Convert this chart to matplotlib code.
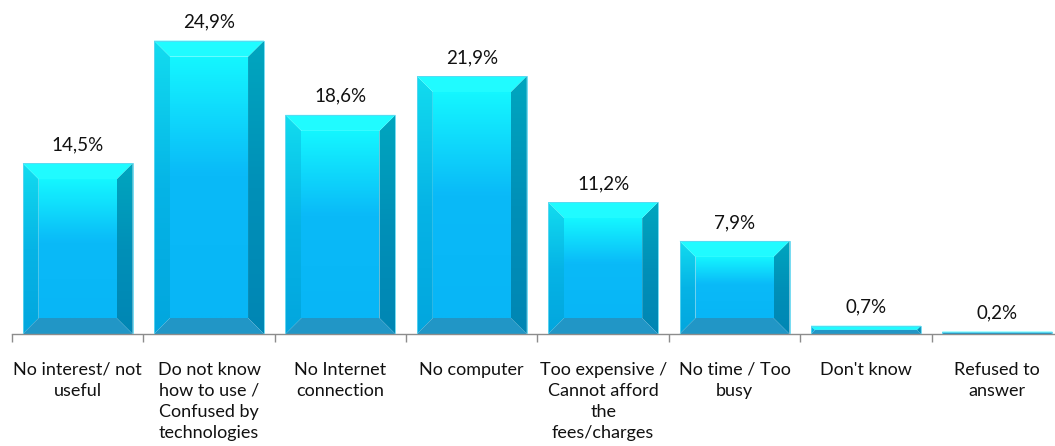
import matplotlib
matplotlib.use("Agg")
import matplotlib.pyplot as plt
from matplotlib.patches import Polygon
from matplotlib.colors import to_rgb
import numpy as np

plt.rcParams['font.family'] = ['Lato', 'DejaVu Sans']

categories = [
    "No interest/ not\nuseful",
    "Do not know\nhow to use /\nConfused by\ntechnologies",
    "No Internet\nconnection",
    "No computer",
    "Too expensive /\nCannot afford\nthe\nfees/charges",
    "No time / Too\nbusy",
    "Don't know",
    "Refused to\nanswer",
]
values = [14.5, 24.9, 18.6, 21.9, 11.2, 7.9, 0.7, 0.2]
value_labels = ["14,5%", "24,9%", "18,6%", "21,9%", "11,2%", "7,9%", "0,7%", "0,2%"]

W, H = 1055, 446
fig = plt.figure(figsize=(W / 100, H / 100), dpi=100)
ax = fig.add_axes([12 / W, 112 / H, 1051 / W, 330 / H])
YMAX = 330 / 11.78
ax.set_xlim(-0.5, len(values) - 0.5)
ax.set_ylim(0, YMAX)

px_x = 1051 / len(values)   # pixels per category
px_y = 330 / YMAX           # pixels per percent

bars = ax.bar(range(len(values)), values, width=0.837, color='none', edgecolor='none')


def shade(poly_pts, stops, x0, x1, y0, y1):
    # vertical gradient image clipped to a polygon face
    t = np.linspace(0, 1, 64)
    pos = [s[0] for s in stops]
    cols = np.array([to_rgb(s[1]) for s in stops])
    rgb = np.stack([np.interp(t, pos, cols[:, k]) for k in range(3)], axis=-1)
    im = ax.imshow(rgb[:, np.newaxis, :], extent=(x0, x1, y0, y1), origin='upper',
                   aspect='auto', interpolation='bilinear', zorder=2)
    im.set_clip_path(Polygon(poly_pts, closed=True, transform=ax.transData))


for bar in bars:
    x0 = bar.get_x()
    x1 = x0 + bar.get_width()
    top = bar.get_height()
    h_px = top * px_y
    b_px = min(16.0, h_px / 2)
    bx = b_px / px_x
    by = b_px / px_y
    ix0, ix1 = x0 + bx, x1 - bx
    iy0, iy1 = by, top - by

    # front face
    shade([(ix0, iy0), (ix1, iy0), (ix1, iy1), (ix0, iy1)],
          [(0, '#14f6ff'), (0.45, '#0abaf8'), (1, '#08b6f6')], ix0, ix1, iy0, iy1)
    # left bevel
    shade([(x0, 0), (ix0, iy0), (ix0, iy1), (x0, top)],
          [(0, '#12dcef'), (0.5, '#06b4e6'), (1, '#02a6de')], x0, ix0, 0, top)
    # right bevel
    shade([(x1, 0), (x1, top), (ix1, iy1), (ix1, iy0)],
          [(0, '#00a6bf'), (0.5, '#0090b8'), (1, '#0086b4')], ix1, x1, 0, top)
    # top bevel
    ax.add_patch(Polygon([(x0, top), (x1, top), (ix1, iy1), (ix0, iy1)],
                         closed=True, facecolor='#20fbff', edgecolor='none', zorder=2))
    # bottom bevel
    ax.add_patch(Polygon([(x0, 0), (x1, 0), (ix1, iy0), (ix0, iy0)],
                         closed=True, facecolor='#2196c6', edgecolor='none', zorder=2))
    # thin outline
    ax.add_patch(Polygon([(x0, 0), (x1, 0), (x1, top), (x0, top)], closed=True,
                         facecolor='none', edgecolor='#5fd6f0', lw=0.6, zorder=3))

for bar, lab in zip(bars, value_labels):
    ax.annotate(lab, (bar.get_x() + bar.get_width() / 2, bar.get_height()),
                xytext=(0, 9.4), textcoords='offset points', ha='center', va='baseline',
                fontsize=13.5, color='#111111')

ax.set_xlim(-0.5, len(values) - 0.5)
ax.set_ylim(0, YMAX)

for side in ['top', 'right', 'left']:
    ax.spines[side].set_visible(False)
ax.spines['bottom'].set_color('#8c8c8c')
ax.spines['bottom'].set_linewidth(1.0)
ax.set_yticks([])

ax.set_xticks(np.arange(len(values) + 1) - 0.5, minor=True)
ax.set_xticks(range(len(values)))
ax.set_xticklabels(categories, fontsize=13, color='#111111', linespacing=1.4)
ax.tick_params(axis='x', which='major', length=0, pad=20)
ax.tick_params(axis='x', which='minor', length=6, color='#8c8c8c', width=1.0)

fig.savefig("out.png", dpi=100)
